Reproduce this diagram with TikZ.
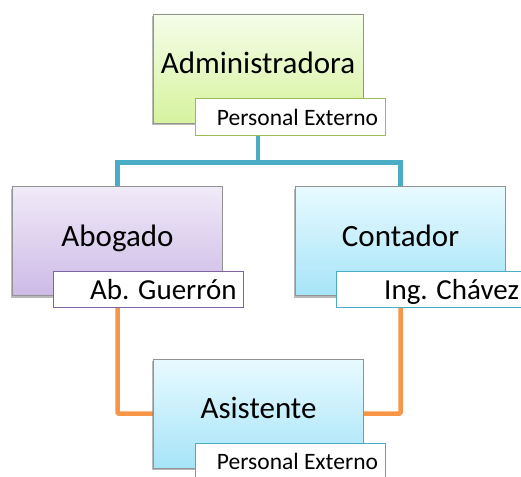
\documentclass[tikz,border=0pt]{standalone}
\usepackage{fontspec}
\setmainfont{Carlito}
\usetikzlibrary{positioning,shadows,backgrounds}
\definecolor{admtop}{HTML}{F5FDE9}
\definecolor{admbot}{HTML}{D6F39E}
\definecolor{abotop}{HTML}{F0EAF8}
\definecolor{abobot}{HTML}{CDBAE6}
\definecolor{contop}{HTML}{E8FAFF}
\definecolor{conbot}{HTML}{A6E4F8}
\definecolor{verde}{HTML}{9BBB59}
\definecolor{morado}{HTML}{8064A2}
\definecolor{celeste}{HTML}{4BACC6}
\definecolor{naranja}{HTML}{F79646}

\begin{document}
\begin{tikzpicture}[x=1pt, y=-1pt,
    cargo/.style={draw=gray!85, line width=0.8pt, minimum width=210pt, minimum height=109pt,
      font=\fontsize{31}{34}\selectfont, text height=23pt, text depth=13pt,
      drop shadow={shadow xshift=-1.5pt, shadow yshift=-2pt, opacity=0.55}},
    persona/.style={draw, fill=white, line width=1pt, minimum height=36pt,
      text width=176pt, align=flush right, inner xsep=7pt},
    nombre/.style={persona, font=\fontsize{29}{32}\selectfont, text height=21.5pt, text depth=0pt},
    externo/.style={persona, font=\fontsize{23.5}{26}\selectfont, text height=17.5pt, text depth=0pt},
    enlace/.style={line width=4.5pt}]
    \useasboundingbox (0,0) rectangle (521,476);
    \clip (0,0) rectangle (521,476);
    \node [cargo, top color=admtop, bottom color=admbot] (adm) at (258,68.5) {Administradora};
    \node [externo, draw=verde] (admlabel) at (290,117) {Personal Externo};
    \node [cargo, top color=abotop, bottom color=abobot] (abo) at (117.5,241) {Abogado};
    \node [nombre, draw=morado] (abolabel) at (148.5,289) {Ab. Guerrón};
    \node [cargo, top color=contop, bottom color=conbot] (con) at (400.5,241) {Contador};
    \node [nombre, draw=celeste] (conlabel) at (431,289) {Ing. Chávez};
    \node [cargo, top color=contop, bottom color=conbot] (asi) at (258.5,413.5) {Asistente};
    \node [externo, draw=celeste] (asilabel) at (290,461) {Personal Externo};
    \begin{scope}[on background layer]
      \coordinate [below=39pt of adm.south] (rama);
      \draw [enlace, celeste] (adm.south) -- (rama) -| (abo.north);
      \draw [enlace, celeste] (adm.south) -- (rama) -| (con.north);
      \draw [enlace, naranja, rounded corners=1pt] (abo.south) |- (asi.west);
      \draw [enlace, naranja, rounded corners=1pt] (con.south) |- (asi.east);
    \end{scope}
\end{tikzpicture}
\end{document}
